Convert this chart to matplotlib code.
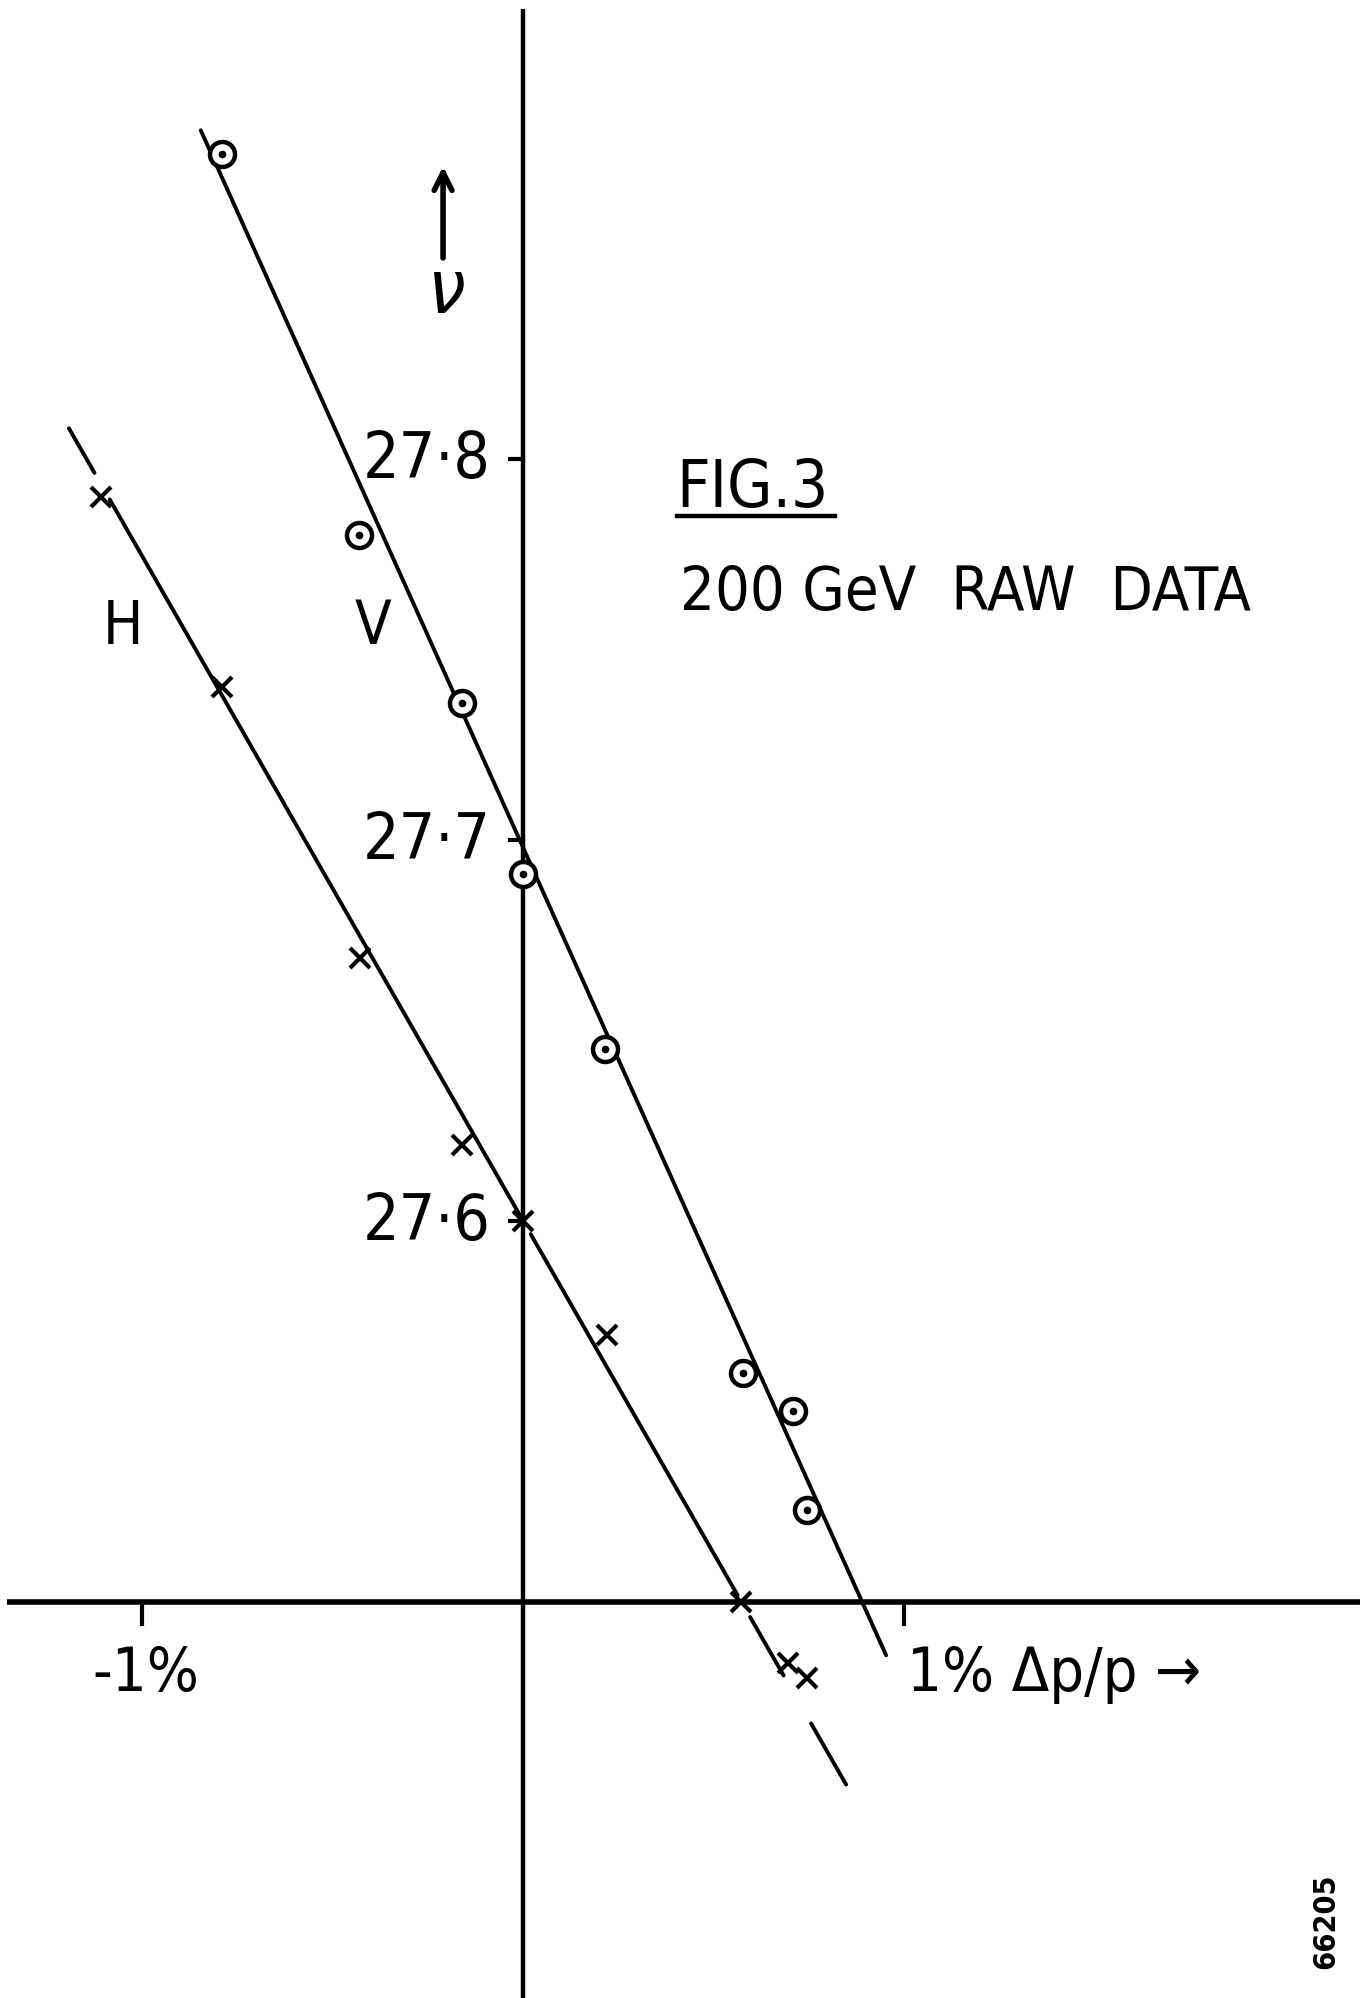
import matplotlib
matplotlib.use('Agg')
import matplotlib.pyplot as plt
import numpy as np

plt.rcParams['font.family'] = ['DejaVu Sans']
plt.rcParams['font.stretch'] = 'condensed'

# dp/p in %, tune nu
h_x = [-1.107, -0.789, -0.427, -0.161, 0.0, 0.221, 0.572, 0.695, 0.745]
h_y = [27.790, 27.740, 27.669, 27.620, 27.600, 27.570, 27.500, 27.484, 27.480]

v_x = [-0.789, -0.430, -0.161, 0.0, 0.214, 0.577, 0.708, 0.745]
v_y = [27.880, 27.780, 27.736, 27.691, 27.645, 27.560, 27.550, 27.524]

# hand drawn straight lines: intercept, slope, pieces of x where the pen was down
h_fit = (27.600, -0.1745)
h_pieces = [(-1.192, -1.125), (-1.085, -0.006), (0.020, 0.563), (0.596, 0.684), (0.756, 0.848)]
v_fit = (27.698, -0.2225)
v_pieces = [(-0.846, 0.953)]

y_ticks = [27.6, 27.7, 27.8]
y_labels = ['27·6', '27·7', '27·8']
x_ticks = [-1.0, 1.0]

fig = plt.figure(figsize=(13.65, 19.99), dpi=100)
ax = fig.add_axes([0, 0, 1, 1])
ax.set_xlim(-1.373, 2.21)
ax.set_ylim(27.396, 27.9207)
ax.axis('off')

# axes drawn by hand
ax.plot([0, 0], [27.396, 27.918], color='black', lw=3.2, solid_capstyle='butt')
ax.plot([-1.354, 2.197], [27.5, 27.5], color='black', lw=4, solid_capstyle='butt')
for t in y_ticks:
    ax.plot([-0.035, 0], [t, t], color='black', lw=3)
for t in x_ticks:
    ax.plot([t, t], [27.5, 27.4942], color='black', lw=3)
for t, lab in zip(y_ticks, y_labels):
    ax.text(-0.252, t, lab, fontsize=46, ha='center', va='center')

ax.text(-0.99, 27.4812, '-1%', fontsize=44, ha='center', va='center')
ax.text(1.007, 27.4812, '1% Δp/p →', fontsize=44, ha='left', va='center')

# fitted lines
for fit, pieces in [(h_fit, h_pieces), (v_fit, v_pieces)]:
    for x0, x1 in pieces:
        xs = np.array([x0, x1])
        ax.plot(xs, fit[0] + fit[1] * xs, color='black', lw=2.8, solid_capstyle='round')

# data points
ax.plot(h_x, h_y, 'x', color='black', markersize=14, mew=3)
ax.plot(v_x, v_y, 'o', markerfacecolor='white', markeredgecolor='black', markersize=18, mew=3.2)
ax.plot(v_x, v_y, 'o', color='black', markersize=4.5)

ax.text(-1.050, 27.756, 'H', fontsize=43, ha='center', va='center')
ax.text(-0.393, 27.756, 'V', fontsize=43, ha='center', va='center')

# nu with arrow
ax.annotate('', xy=(-0.21, 27.8775), xytext=(-0.21, 27.852),
            arrowprops=dict(arrowstyle='->', lw=4, color='black', mutation_scale=32))
ax.text(-0.201, 27.844, r'$\nu$', fontsize=54, ha='center', va='center')

ax.text(0.403, 27.7923, 'FIG.3', fontsize=47, ha='left', va='center')
ax.plot([0.403, 0.819], [27.785, 27.785], color='black', lw=3.2)
ax.text(0.413, 27.7648, '200 GeV  RAW  DATA', fontsize=44, ha='left', va='center')

ax.text(2.108, 27.4163, '66205', fontsize=22, fontweight='bold', rotation=90,
        ha='center', va='center')

fig.savefig('out.png', dpi=100, facecolor='white')
